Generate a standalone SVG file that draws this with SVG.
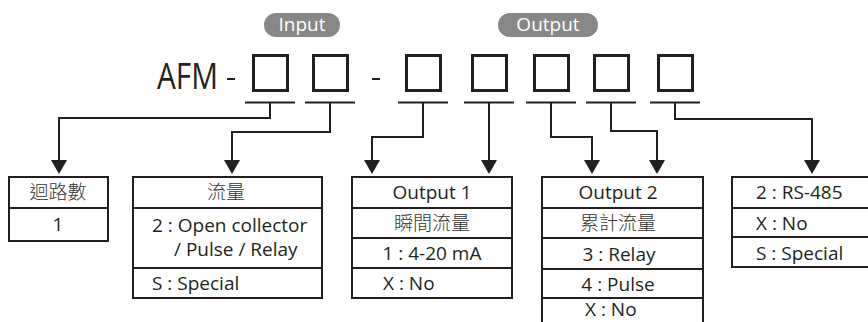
<svg xmlns="http://www.w3.org/2000/svg" width="868" height="322" viewBox="0 0 868 322">
<defs>
<style>
.t{font-family:"Open Sans","Noto Sans CJK TC",sans-serif;font-size:19px;fill:#231f20}
.cj{font-family:"Noto Sans CJK TC",sans-serif;font-weight:300;fill:#333}
.c{text-anchor:middle}
.big{font-size:36px}
.box{fill:none;stroke:#231f20;stroke-width:2}
.sq{fill:none;stroke:#231f20;stroke-width:3}
.ln{fill:none;stroke:#231f20;stroke-width:2}
.pill{fill:#878787}
.pt{font-family:"Open Sans",sans-serif;font-size:19px;fill:#fff;text-anchor:middle}
</style>
<marker id="ah" markerUnits="userSpaceOnUse" viewBox="0 0 14 16" markerWidth="14" markerHeight="16" refX="1" refY="8" orient="auto">
<path d="M0,0 L14,8 L0,16 Z" fill="#231f20"/>
</marker>
</defs>
<rect width="868" height="322" fill="#fff"/>
<g id="header">
<rect class="pill" x="264" y="13" width="76" height="24" rx="12"/>
<text class="pt" x="302" y="31">Input</text>
<rect class="pill" x="498" y="13" width="100" height="24" rx="12"/>
<text class="pt" x="548" y="31">Output</text>
<text class="t big" x="157" y="89" textLength="61" lengthAdjust="spacingAndGlyphs">AFM</text>
<line class="ln" x1="227" y1="79" x2="235" y2="79" stroke-width="2.5"/>
<line class="ln" x1="372" y1="79" x2="380" y2="79" stroke-width="2.5"/>
<rect class="sq" x="253.5" y="55.5" width="34" height="35"/>
<rect class="sq" x="313.5" y="55.5" width="34" height="35"/>
<rect class="sq" x="406.5" y="55.5" width="34" height="35"/>
<rect class="sq" x="472.5" y="55.5" width="34" height="35"/>
<rect class="sq" x="534.5" y="55.5" width="34" height="35"/>
<rect class="sq" x="594.5" y="55.5" width="34" height="35"/>
<rect class="sq" x="658.5" y="55.5" width="34" height="35"/>
<path class="ln" d="M245,102.5 H295 M305,102.5 H355 M398,102.5 H448 M464,102.5 H514 M526,102.5 H576 M586,102.5 H636 M650,102.5 H700"/>
</g>
<g id="connectors">
<path class="ln" d="M270,102.5 V118 H59 V161" marker-end="url(#ah)"/>
<path class="ln" d="M330,102.5 V132 H232 V161" marker-end="url(#ah)"/>
<path class="ln" d="M423,102.5 V137 H372 V161" marker-end="url(#ah)"/>
<path class="ln" d="M489,102.5 V161" marker-end="url(#ah)"/>
<path class="ln" d="M551,102.5 V137 H592 V161" marker-end="url(#ah)"/>
<path class="ln" d="M611,102.5 V131 H657 V161" marker-end="url(#ah)"/>
<path class="ln" d="M675,102.5 V119 H812 V161" marker-end="url(#ah)"/>
</g>
<g id="box-loops">
<rect class="box" x="9" y="177" width="99" height="64"/>
<line class="ln" x1="9" y1="208" x2="108" y2="208"/>
<text class="t cj c" x="58" y="199">迴路數</text>
<text class="t c" x="58" y="231">1</text>
</g>
<g id="box-flow">
<rect class="box" x="133" y="177" width="189" height="121"/>
<line class="ln" x1="133" y1="208" x2="322" y2="208"/>
<line class="ln" x1="133" y1="268" x2="322" y2="268"/>
<text class="t cj c" x="226" y="199">流量</text>
<text class="t" x="152" y="232">2 : Open collector</text>
<text class="t" x="174" y="256">/ Pulse / Relay</text>
<text class="t" x="152" y="290">S : Special</text>
</g>
<g id="box-output1">
<rect class="box" x="352" y="177" width="160" height="121"/>
<line class="ln" x1="352" y1="208" x2="512" y2="208"/>
<line class="ln" x1="352" y1="238" x2="512" y2="238"/>
<line class="ln" x1="352" y1="268" x2="512" y2="268"/>
<text class="t c" x="432" y="199">Output 1</text>
<text class="t cj c" x="432" y="230">瞬間流量</text>
<text class="t c" x="432" y="260">1 : 4-20 mA</text>
<text class="t" x="383" y="290">X : No</text>
</g>
<g id="box-output2">
<rect class="box" x="542" y="177" width="161" height="160"/>
<line class="ln" x1="542" y1="208" x2="703" y2="208"/>
<line class="ln" x1="542" y1="238" x2="703" y2="238"/>
<line class="ln" x1="542" y1="269" x2="703" y2="269"/>
<line class="ln" x1="542" y1="298" x2="703" y2="298"/>
<text class="t c" x="618" y="199">Output 2</text>
<text class="t cj c" x="618" y="230">累計流量</text>
<text class="t c" x="619" y="261">3 : Relay</text>
<text class="t c" x="618" y="291">4 : Pulse</text>
<text class="t" x="585" y="316">X : No</text>
</g>
<g id="box-comm">
<rect class="box" x="732" y="177" width="160" height="90"/>
<line class="ln" x1="732" y1="208" x2="892" y2="208"/>
<line class="ln" x1="732" y1="237" x2="892" y2="237"/>
<text class="t" x="756" y="199">2 : RS-485</text>
<text class="t" x="756" y="230">X : No</text>
<text class="t" x="756" y="260">S : Special</text>
</g>
</svg>
